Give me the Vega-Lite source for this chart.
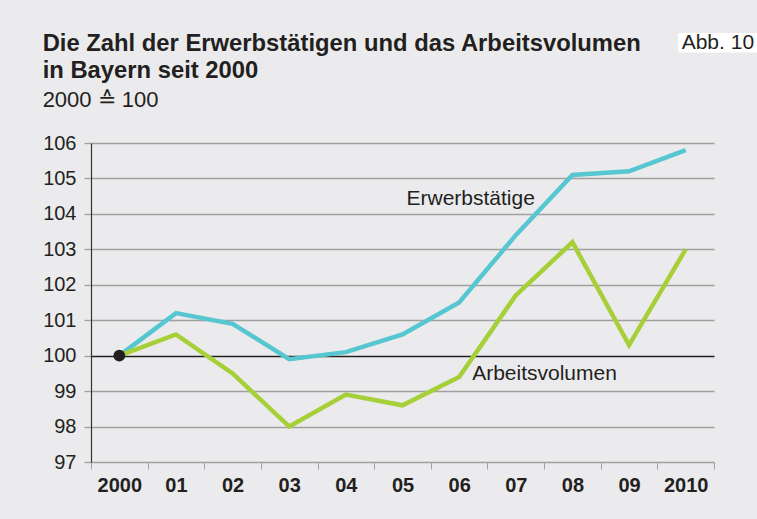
{
  "$schema": "https://vega.github.io/schema/vega-lite/v6.json",
  "width": 623,
  "height": 319,
  "autosize": {"type": "none"},
  "padding": {"left": 91, "top": 143, "right": 43, "bottom": 57},
  "background": "#ebebed",
  "title": {
    "text": ["Die Zahl der Erwerbstätigen und das Arbeitsvolumen", "in Bayern seit 2000"],
    "subtitle": "2000 ≙ 100",
    "anchor": "start",
    "frame": "bounds",
    "font": "Liberation Sans",
    "fontSize": 23.8,
    "fontWeight": "bold",
    "color": "#231f20",
    "lineHeight": 27,
    "subtitleFont": "Liberation Sans",
    "subtitleFontSize": 22,
    "subtitleColor": "#231f20",
    "subtitlePadding": 7,
    "offset": -79
  },
  "datasets": {
    "series": [
      {"year": "2000", "series": "Erwerbstätige", "value": 100},
      {"year": "01", "series": "Erwerbstätige", "value": 101.2},
      {"year": "02", "series": "Erwerbstätige", "value": 100.9},
      {"year": "03", "series": "Erwerbstätige", "value": 99.9},
      {"year": "04", "series": "Erwerbstätige", "value": 100.1},
      {"year": "05", "series": "Erwerbstätige", "value": 100.6},
      {"year": "06", "series": "Erwerbstätige", "value": 101.5},
      {"year": "07", "series": "Erwerbstätige", "value": 103.4},
      {"year": "08", "series": "Erwerbstätige", "value": 105.1},
      {"year": "09", "series": "Erwerbstätige", "value": 105.2},
      {"year": "2010", "series": "Erwerbstätige", "value": 105.8},
      {"year": "2000", "series": "Arbeitsvolumen", "value": 100},
      {"year": "01", "series": "Arbeitsvolumen", "value": 100.6},
      {"year": "02", "series": "Arbeitsvolumen", "value": 99.5},
      {"year": "03", "series": "Arbeitsvolumen", "value": 98.0},
      {"year": "04", "series": "Arbeitsvolumen", "value": 98.9},
      {"year": "05", "series": "Arbeitsvolumen", "value": 98.6},
      {"year": "06", "series": "Arbeitsvolumen", "value": 99.4},
      {"year": "07", "series": "Arbeitsvolumen", "value": 101.7},
      {"year": "08", "series": "Arbeitsvolumen", "value": 103.2},
      {"year": "09", "series": "Arbeitsvolumen", "value": 100.3},
      {"year": "2010", "series": "Arbeitsvolumen", "value": 103.0}
    ],
    "one": [{"n": 1}]
  },
  "layer": [
    {
      "data": {"name": "series"},
      "mark": {"type": "line", "strokeWidth": 4.5, "strokeJoin": "miter", "strokeCap": "butt"},
      "encoding": {
        "x": {
          "field": "year",
          "type": "ordinal",
          "bandPosition": 0.5,
          "scale": {"type": "band", "domain": ["2000", "01", "02", "03", "04", "05", "06", "07", "08", "09", "2010"], "paddingInner": 0, "paddingOuter": 0},
          "axis": {
            "title": null,
            "labelAngle": 0,
            "tickBand": "extent",
            "grid": false,
            "labelFont": "Liberation Sans",
            "labelFontSize": 20,
            "labelFontWeight": "bold",
            "labelColor": "#231f20",
            "labelPadding": 6,
            "domainColor": "#a0a0a0",
            "domainWidth": 1,
            "tickColor": "#a0a0a0",
            "tickSize": 7,
            "tickWidth": 1
          }
        },
        "y": {
          "field": "value",
          "type": "quantitative",
          "scale": {"domain": [97, 106], "nice": false, "zero": false},
          "axis": {
            "title": null,
            "values": [97, 98, 99, 100, 101, 102, 103, 104, 105, 106],
            "tickCount": 20,
            "format": "d",
            "labelOverlap": false,
            "labelBound": false,
            "grid": true,
            "gridColor": {"condition": {"test": "datum.value === 100", "value": "#231f20"}, "value": "#a0a0a0"},
            "gridWidth": {"condition": {"test": "datum.value === 100", "value": 1.6}, "value": 1.3},
            "labelFont": "Liberation Sans",
            "labelFontSize": 20,
            "labelColor": "#231f20",
            "labelPadding": 8,
            "domainColor": "#333333",
            "domainWidth": 1.2,
            "tickColor": "#a0a0a0",
            "tickSize": 7,
            "tickWidth": 1.3
          }
        },
        "color": {
          "field": "series",
          "type": "nominal",
          "scale": {"domain": ["Erwerbstätige", "Arbeitsvolumen"], "range": ["#56c6d0", "#a6cf38"]},
          "legend": null
        }
      }
    },
    {
      "data": {"name": "series"},
      "transform": [{"filter": "datum.year === '2000' && datum.series === 'Erwerbstätige'"}],
      "mark": {"type": "point", "filled": true, "color": "#231f20", "size": 140, "opacity": 1},
      "encoding": {
        "x": {"field": "year", "type": "ordinal", "bandPosition": 0.5},
        "y": {"field": "value", "type": "quantitative"}
      }
    },
    {
      "data": {"name": "one"},
      "mark": {"type": "text", "text": "Erwerbstätige", "align": "left", "baseline": "alphabetic", "dx": 4, "font": "Liberation Sans", "fontSize": 21, "color": "#231f20"},
      "encoding": {
        "x": {"datum": "05", "type": "ordinal", "bandPosition": 0.5},
        "y": {"datum": 104.24, "type": "quantitative"}
      }
    },
    {
      "data": {"name": "one"},
      "mark": {"type": "text", "text": "Arbeitsvolumen", "align": "left", "baseline": "alphabetic", "dx": 13, "font": "Liberation Sans", "fontSize": 21, "color": "#231f20"},
      "encoding": {
        "x": {"datum": "06", "type": "ordinal", "bandPosition": 0.5},
        "y": {"datum": 99.3, "type": "quantitative"}
      }
    },
    {
      "data": {"name": "one"},
      "mark": {"type": "rect", "fill": "#ffffff", "width": 79, "xOffset": 32, "clip": false},
      "encoding": {
        "x": {"datum": "2010", "type": "ordinal"},
        "y": {"datum": 109.1, "type": "quantitative"},
        "y2": {"datum": 108.55}
      }
    },
    {
      "data": {"name": "one"},
      "mark": {"type": "text", "text": "Abb. 10", "align": "left", "baseline": "alphabetic", "dx": -4, "font": "Liberation Sans", "fontSize": 21, "color": "#231f20"},
      "encoding": {
        "x": {"datum": "2010", "type": "ordinal", "bandPosition": 0.5},
        "y": {"datum": 108.65, "type": "quantitative"}
      }
    }
  ],
  "config": {
    "font": "Liberation Sans",
    "background": "#ebebed",
    "view": {"stroke": null},
    "axis": {"labelOverlap": false}
  }
}
